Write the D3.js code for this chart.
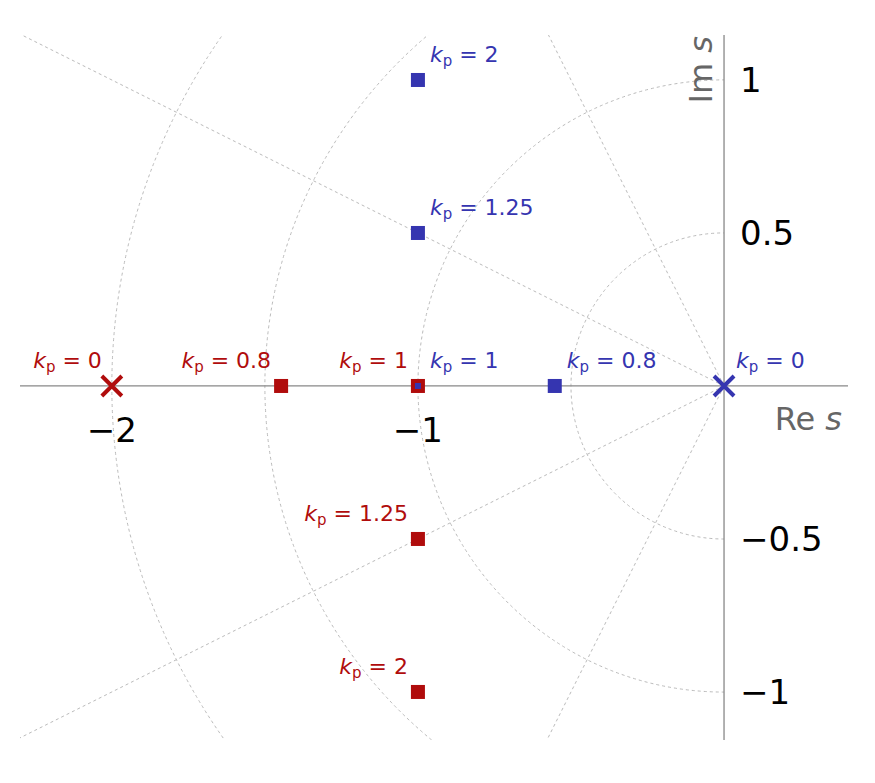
<!DOCTYPE html>
<html><head><meta charset="utf-8">
<script src="https://cdn.jsdelivr.net/npm/d3@7"></script>
<style>body{margin:0;background:#fff}</style></head>
<body><svg id="c" width="875" height="783"></svg>
<script>
const redPts=[{re:-1.447,im:0,k:"0.8"},{re:-1,im:0,k:"1"},{re:-1,im:-0.5,k:"1.25"},{re:-1,im:-1,k:"2"}];
const bluePts=[{re:-0.553,im:0,k:"0.8"},{re:-1,im:0,k:"1"},{re:-1,im:0.5,k:"1.25"},{re:-1,im:1,k:"2"}];
const redPole={re:-2,im:0,k:"0"}, bluePole={re:0,im:0,k:"0"};
const xTicks=[-2,-1], yTicks=[1,0.5,-0.5,-1];
const radii=[0.5,1,1.5,2];
const slopes=[0.5,-0.5,2,-2];
const red="#b00c0c", blue="#3535b0";
const svg=d3.select("#c");
const x=d3.scaleLinear().domain([-2.3,0.405]).range([20,848]);
const y=d3.scaleLinear().domain([-1.157,1.147]).range([740,35]);
const u=x(1)-x(0);
svg.append("clipPath").attr("id","cl").append("rect").attr("x",20).attr("y",35).attr("width",x(0)-20).attr("height",705);
const g=svg.append("g").attr("clip-path","url(#cl)");
radii.forEach(r=>g.append("circle").attr("cx",x(0)).attr("cy",y(0)).attr("r",r*u).attr("fill","none").attr("stroke","#bbb").attr("stroke-dasharray","3,3"));
slopes.forEach(s=>g.append("line").attr("x1",x(0)).attr("y1",y(0)).attr("x2",x(-3)).attr("y2",y(-3*s)).attr("stroke","#bbb").attr("stroke-dasharray","3,3"));
svg.append("line").attr("x1",20).attr("x2",848).attr("y1",y(0)).attr("y2",y(0)).attr("stroke","#888").attr("stroke-width",1.3);
svg.append("line").attr("x1",x(0)).attr("x2",x(0)).attr("y1",35).attr("y2",740).attr("stroke","#888").attr("stroke-width",1.3);
const F="DejaVu Sans";
xTicks.forEach(t=>svg.append("text").attr("x",x(t)).attr("y",y(0)+56).attr("text-anchor","middle").attr("font-family",F).attr("font-size",34).text("−"+Math.abs(t)));
yTicks.forEach(t=>svg.append("text").attr("x",x(0)+16).attr("y",y(t)+12).attr("font-family",F).attr("font-size",34).text((t<0?"−":"")+Math.abs(t)));
svg.append("text").attr("x",842).attr("y",y(0)+44).attr("text-anchor","end").attr("font-family",F).attr("font-size",32).attr("fill","#666").html('Re <tspan font-style="italic">s</tspan>');
svg.append("text").attr("transform",`translate(${x(0)-12},36) rotate(-90)`).attr("text-anchor","end").attr("font-family",F).attr("font-size",32).attr("fill","#666").html('Im <tspan font-style="italic">s</tspan>');
function label(p,col,dx,dy,anchor){
  svg.append("text").attr("x",x(p.re)+dx).attr("y",y(p.im)+dy).attr("text-anchor",anchor).attr("font-family",F).attr("font-size",22).attr("fill",col)
   .html(`<tspan font-style="italic">k</tspan><tspan font-size="15" dy="4">p</tspan><tspan dy="-4"> = ${p.k}</tspan>`);
}
function sq(p,col){svg.append("rect").attr("x",x(p.re)-7).attr("y",y(p.im)-7).attr("width",14).attr("height",14).attr("fill",col);}
function cross(p,col){const c=[x(p.re),y(p.im)],s=10;
 svg.append("path").attr("d",`M${c[0]-s},${c[1]-s}L${c[0]+s},${c[1]+s}M${c[0]-s},${c[1]+s}L${c[0]+s},${c[1]-s}`).attr("stroke",col).attr("stroke-width",4);}
redPts.forEach(p=>{sq(p,red);label(p,red,-10,-18,"end");});
bluePts.forEach(p=>{ if(p.re===-1&&p.im===0) svg.append("rect").attr("x",x(p.re)-3).attr("y",y(p.im)-3).attr("width",6).attr("height",6).attr("fill",blue); else sq(p,blue); label(p,blue,12,-18,"start");});
cross(redPole,red);label(redPole,red,-10,-18,"end");
cross(bluePole,blue);label(bluePole,blue,12,-18,"start");
</script></body></html>
